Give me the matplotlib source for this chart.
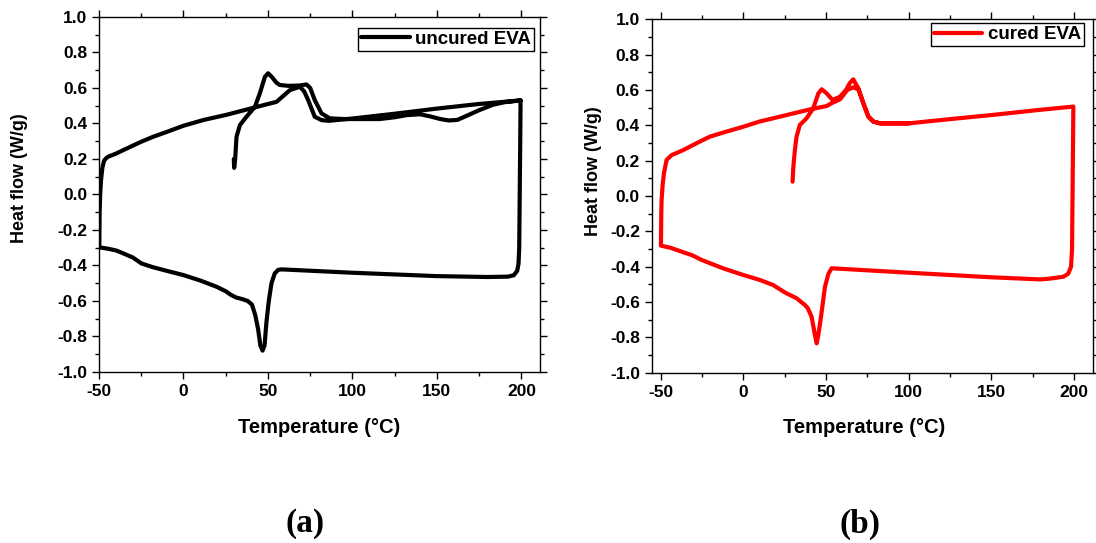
import numpy as np
import matplotlib
matplotlib.use('Agg')
import matplotlib.pyplot as plt
from matplotlib.ticker import MultipleLocator, FormatStrFormatter

plt.rcParams['font.family'] = ['Liberation Sans', 'DejaVu Sans']
plt.rcParams['font.weight'] = 'bold'
plt.rcParams['axes.unicode_minus'] = False

# uncured EVA: 1st heating 30->200, cooling 200->-50, 2nd heating -50->200
unc_T = [29.8, 30.0, 30.6, 31.4, 33.4, 37.3, 42.3, 45.2, 48.2, 50.1, 52.5, 55, 57.0, 62, 68.9, 72.8, 75,
         77.7, 81.7, 86.6, 95, 105, 116, 125, 132, 140, 146, 152, 157, 162, 168, 175, 183, 190, 199.5,
         199.3, 199.0, 198.7, 198.3, 197.5, 195.5, 192, 180, 150, 100, 58, 56, 54, 52.1, 50.5, 49.1,
         48, 46.8, 45.5, 44.2, 42.5, 40.5, 38, 35, 31, 28, 25, 19.6, 10, -0.1, -10, -18, -24.8, -30,
         -35.6, -40, -45, -49.8,
         -49.6, -49.3, -48.8, -48, -47, -45.5, -44, -40, -35.6, -30, -24.8, -18, -10, -0.1, 12, 25.5,
         40, 50.1, 55.1, 63, 68.9, 71.5, 73.8, 77.7, 81.7, 86, 100, 125, 150, 175, 199.5]
unc_Q = [0.20, 0.15, 0.20, 0.325, 0.391, 0.438, 0.494, 0.57, 0.663, 0.683, 0.66, 0.63, 0.617, 0.612, 0.614, 0.62, 0.6,
         0.532, 0.457, 0.429, 0.425, 0.425, 0.425, 0.435, 0.447, 0.452, 0.44, 0.425, 0.417, 0.42, 0.445, 0.475, 0.505, 0.52, 0.53,
         0.3, 0.0, -0.3, -0.39, -0.43, -0.455, -0.463, -0.465, -0.46, -0.441, -0.422, -0.425, -0.445, -0.5, -0.6, -0.72,
         -0.85, -0.88, -0.85, -0.76, -0.68, -0.62, -0.6, -0.59, -0.58, -0.565, -0.545, -0.52, -0.485, -0.454, -0.43, -0.41, -0.389, -0.355,
         -0.332, -0.315, -0.305, -0.298,
         -0.1, 0.0, 0.08, 0.15, 0.19, 0.207, 0.215, 0.23, 0.25, 0.275, 0.298, 0.325, 0.352, 0.387, 0.42, 0.449,
         0.485, 0.51, 0.522, 0.588, 0.607, 0.58, 0.532, 0.438, 0.419, 0.415, 0.428, 0.455, 0.484, 0.51, 0.53]

# cured EVA
cur_T = [29.8, 30.2, 31.2, 32.2, 34.2, 38.3, 42.3, 45.4, 47.4, 50.4, 54.0, 58.5, 62.1, 64.5, 66.5, 69.6,
         72.6, 75.6, 78.7, 82.7, 100, 125, 150, 178.8, 199.6,
         199.4, 199.1, 198.8, 198.2, 196.5, 193.5, 185, 179.4, 150, 100, 53.4, 51.5, 49.4, 47, 45.3, 44.4,
         43.4, 41.3, 39, 37.3, 35, 32.3, 25, 18.1, 10, 0, -12, -25.2, -31, -37.3, -44, -49.8,
         -49.6, -49.4, -48.8, -48, -46.4, -43.3, -40, -36.3, -28, -20.2, -10, 0, 9.7, 26.2, 40.3, 50.4, 53.4,
         58.5, 62.9, 66.5, 69.6, 72.6, 75.6, 78.7, 82.7, 100]
cur_Q = [0.081, 0.157, 0.26, 0.336, 0.402, 0.44, 0.496, 0.581, 0.604, 0.581, 0.543, 0.562, 0.6, 0.64, 0.66, 0.609,
         0.525, 0.45, 0.421, 0.411, 0.411, 0.435, 0.458, 0.487, 0.506,
         0.3, 0.0, -0.3, -0.4, -0.44, -0.457, -0.468, -0.472, -0.46, -0.434, -0.409, -0.44, -0.513, -0.683, -0.79, -0.834,
         -0.79, -0.683, -0.635, -0.617, -0.6, -0.579, -0.545, -0.504, -0.475, -0.447, -0.41, -0.362, -0.335, -0.315, -0.293, -0.281,
         -0.1, -0.023, 0.06, 0.128, 0.204, 0.232, 0.245, 0.26, 0.3, 0.336, 0.365, 0.392, 0.421, 0.458, 0.49, 0.509, 0.525,
         0.547, 0.6, 0.615, 0.604, 0.525, 0.45, 0.421, 0.411, 0.411]

xticks = [-50, 0, 50, 100, 150, 200]
yticks = [-1.0, -0.8, -0.6, -0.4, -0.2, 0.0, 0.2, 0.4, 0.6, 0.8, 1.0]

fig = plt.figure(figsize=(10.96, 5.43), dpi=100)
ax1 = fig.add_axes([0.0903, 0.315, 0.4024, 0.6537])
ax2 = fig.add_axes([0.5946, 0.3136, 0.4024, 0.6509])

panels = [
    (ax1, unc_T, unc_Q, 'black', 'uncured EVA', (-50, 211), (0.986, 0.969), (-0.161, 0.546), (0.5, -0.13), ('(a)', 0.278)),
    (ax2, cur_T, cur_Q, 'red', 'cured EVA', (-55.4, 211.3), (0.980, 0.989), (-0.113, 0.569), (0.482, -0.128), ('(b)', 0.785)),
]

for ax, T, Q, color, name, xlim, leg_anchor, ylab_xy, xlab_xy, (tag, tag_x) in panels:
    ax.plot(T, Q, color=color, lw=3, label=name, solid_joinstyle='round', solid_capstyle='round')
    ax.set_xlim(*xlim)
    ax.set_ylim(-1.0, 1.0)
    ax.set_xticks(xticks)
    ax.set_yticks(yticks)
    ax.xaxis.set_minor_locator(MultipleLocator(25))
    ax.yaxis.set_minor_locator(MultipleLocator(0.1))
    ax.yaxis.set_major_formatter(FormatStrFormatter('%.1f'))
    ax.tick_params(which='both', direction='out', top=True, right=True,
                   labeltop=False, labelright=False, labelsize=12.5, width=1)
    ax.tick_params(which='major', length=5)
    ax.tick_params(which='minor', length=3)
    for lab in ax.get_xticklabels() + ax.get_yticklabels():
        lab.set_fontweight('bold')
    ax.set_xlabel('Temperature (°C)', fontsize=14.5, fontweight='bold')
    ax.set_ylabel('Heat flow (W/g)', fontsize=13, fontweight='bold')
    ax.yaxis.set_label_coords(*ylab_xy)
    ax.xaxis.set_label_coords(*xlab_xy)
    leg = ax.legend(loc='upper right', bbox_to_anchor=leg_anchor, fontsize=13.5, fancybox=False,
                    edgecolor='black', framealpha=1, handlelength=2.6, borderpad=0.15,
                    handletextpad=0.3, borderaxespad=0)
    leg.get_frame().set_linewidth(1.0)
    for t in leg.get_texts():
        t.set_fontweight('bold')
    for s in ax.spines.values():
        s.set_linewidth(1.0)
    fig.text(tag_x, 0.035, tag, ha='center', va='center', fontsize=24,
             fontweight='bold', family='Liberation Serif')

fig.savefig('out.png', dpi=100)
